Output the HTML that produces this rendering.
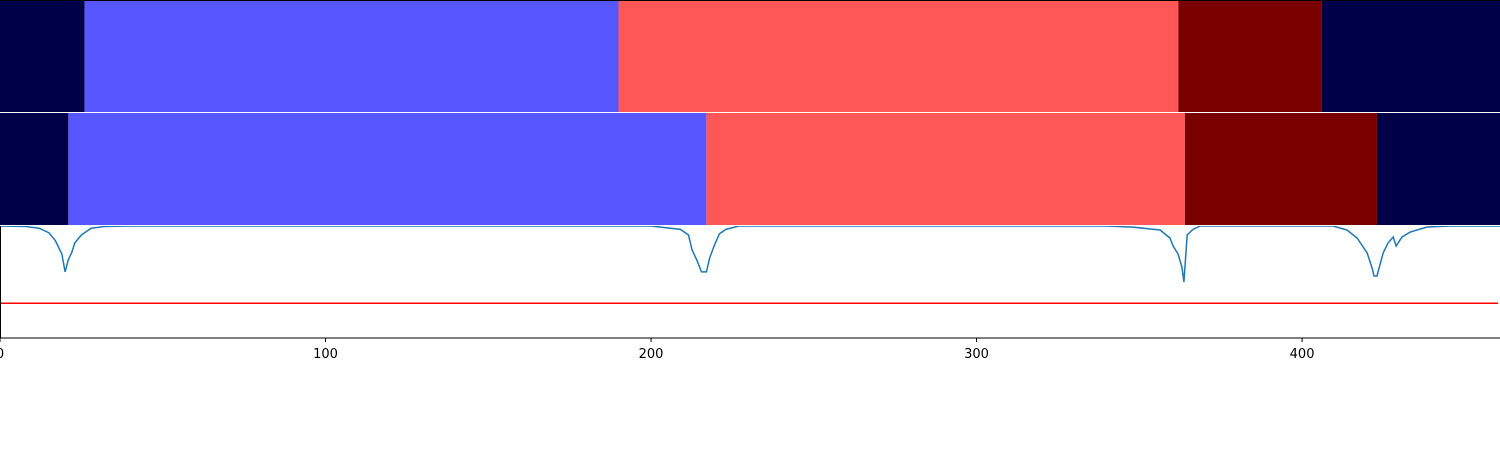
<!DOCTYPE html>
<html><head><meta charset="utf-8"><style>
html,body{margin:0;padding:0;background:#fff;width:1500px;height:450px;overflow:hidden}
svg text{font-family:"DejaVu Sans","Liberation Sans",sans-serif;font-size:13px}
</style></head><body>
<svg id="chart" width="1500" height="450" xmlns="http://www.w3.org/2000/svg">
<defs><clipPath id="c3"><rect x="0" y="226" width="1500" height="112"/></clipPath></defs>
<g id="p1"></g>
<g id="p2"></g>
<g id="p3"></g>
<g id="ax"></g>
<line x1="0" x2="1500" y1="0.5" y2="0.5" stroke="#000" stroke-width="1"/>
</svg>
<script>
const seg1Bounds=[0,26,190,362,406,461];
const seg1Colors=["#000048","#5757ff","#ff5757","#7a0000","#000048"];
const seg2Bounds=[0,21,217,364,423,461];
const seg2Colors=["#000048","#5757ff","#ff5757","#7a0000","#000048"];
const curveX=[0,8,12,15,17,19,20,21,22,23,25,28,32,40,200,203,209,211.5,212.6,214,215.5,217,218,219.5,221,223,227,235,340,348,356.4,359.4,360.4,361.9,363.1,363.7,364.7,366.5,368.7,380,400,409.5,413.8,416.9,420,421.5,422.1,423,424.9,426.4,428,428.9,430.7,433.2,438.4,445.5,461];
const curveY=[1,0.995,0.98,0.94,0.87,0.75,0.59,0.7,0.76,0.85,0.92,0.98,0.995,1,1,0.99,0.97,0.92,0.786,0.7,0.59,0.59,0.714,0.83,0.93,0.97,1,1,1,0.99,0.964,0.893,0.82,0.75,0.63,0.5,0.92,0.97,1,1,1,1,0.964,0.893,0.759,0.625,0.554,0.554,0.759,0.848,0.902,0.821,0.902,0.946,0.991,1,1];
const threshold=[0.31];
const xTicks=[0,100,200,300,400];
const NS="http://www.w3.org/2000/svg";
const xs=v=>v*1500/460.8;
const ys=v=>338-v*112;
function mk(t,a,p){const e=document.createElementNS(NS,t);for(const k in a)e.setAttribute(k,a[k]);p.appendChild(e);return e;}
function track(bounds,colors,g,y0,name){
 for(let i=0;i<colors.length;i++){
  const r=mk('rect',{x:xs(bounds[i]),y:y0,width:xs(bounds[i+1])-xs(bounds[i]),height:112,fill:colors[i]},g);
  
  
 }
}
track(seg1Bounds,seg1Colors,document.getElementById('p1'),0,'track1');
track(seg2Bounds,seg2Colors,document.getElementById('p2'),113,'track2');
const p3=document.getElementById('p3');
const th=mk('line',{x1:0,x2:1498,y1:ys(threshold[0]),y2:ys(threshold[0]),stroke:'#ff0000','stroke-width':1.5},p3);


const pl=mk('polyline',{points:curveX.map((x,i)=>xs(x)+','+ys(curveY[i])).join(' '),fill:'none',stroke:'#1f77b4','stroke-width':1.5,'clip-path':'url(#c3)'},p3);


const ax=document.getElementById('ax');
const sp=mk('line',{x1:0,x2:1500,y1:338,y2:338,stroke:'#000','stroke-width':1},ax);


const ls=mk('line',{x1:0.5,x2:0.5,y1:226,y2:338,stroke:'#000','stroke-width':1},ax);


xTicks.forEach(t=>{
 const tk=mk('line',{x1:xs(t),x2:xs(t),y1:338,y2:342,stroke:'#000','stroke-width':1},ax);
 
 
 const tx=mk('text',{x:xs(t),y:358,'text-anchor':'middle',fill:'#000'},ax);
 tx.textContent=t;
 
 
});
</script>
</body></html>
